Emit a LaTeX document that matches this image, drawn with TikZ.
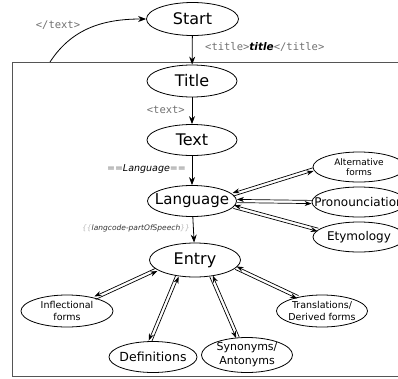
\documentclass[tikz,border=0pt]{standalone}
\usepackage{fontspec}
\setmainfont{DejaVu Sans}
\setmonofont{DejaVu Sans Mono}
\usepackage{tikz}
\usetikzlibrary{shapes.geometric}
\usetikzlibrary{arrows.meta}

\definecolor{tagGray}{HTML}{707070}
\definecolor{braceGray}{HTML}{BBBBBB}
\definecolor{frameGray}{HTML}{555555}

% two arrows side by side, one each way
\newcommand{\pairlink}[4]{%
  \draw[pair, transform canvas={shift={(#3)}}] (#1) -- (#2);
  \draw[pair, transform canvas={shift={(#4)}}] (#2) -- (#1);}

\begin{document}
\begin{tikzpicture}[x=1pt, y=-1pt,
    oval/.style={draw, ellipse, inner sep=0pt, line width=0.8pt},
    big/.style={font=\fontsize{16}{19}\selectfont},
    mid/.style={font=\fontsize{12}{14}\selectfont},
    small/.style={align=center, font=\fontsize{9.5}{12}\selectfont},
    tag/.style={inner sep=0pt, font=\ttfamily\fontsize{10.5}{12}\selectfont, text=tagGray},
    arr/.style={-{Stealth[length=8pt, width=6pt]}, line width=0.8pt},
    pair/.style={-{Stealth[length=7pt, width=5pt]}, line width=0.7pt}]

    \useasboundingbox (0,0) rectangle (398,378);
    \clip (0,0) rectangle (398,378);

    % Frame
    \draw[frameGray, line width=0.9pt] (12,62) rectangle (420,376);

    % Nodes
    \node[oval, minimum width=92pt, minimum height=33pt, label={[big]center:Start}] (start) at (192.5,19) {};
    \node[oval, minimum width=90pt, minimum height=32pt, label={[big]center:Title}] (title) at (192,81) {};
    \node[oval, minimum width=90pt, minimum height=31pt, label={[big]center:Text}] (txt) at (192,140) {};
    \node[oval, minimum width=89pt, minimum height=31pt,
          label={[big, font=\fontsize{15}{18}\selectfont]center:Language}] (lang) at (192,201) {};
    \node[oval, minimum width=91pt, minimum height=34pt, label={[big]center:Entry}] (entry) at (195,260) {};

    \node[oval, minimum width=92pt, minimum height=30pt,
          label={[small, font=\fontsize{9}{10.5}\selectfont]center:Alternative\\forms}] (alt) at (359,167) {};
    \node[oval, minimum width=94pt, minimum height=30pt, label={[mid]center:Pronounciation}] (pron) at (359,202) {};
    \node[oval, minimum width=92pt, minimum height=30pt, label={[mid]center:Etymology}] (ety) at (359,237) {};

    \node[oval, minimum width=92pt, minimum height=32pt, label={[small]center:Inflectional\\forms}] (infl) at (67,311) {};
    \node[oval, minimum width=88pt, minimum height=31pt, label={[mid, font=\fontsize{12.5}{14}\selectfont]center:Definitions}] (defs) at (153,357) {};
    \node[oval, minimum width=91pt, minimum height=35pt,
          label={[small, font=\fontsize{11}{14}\selectfont]center:Synonyms/\\Antonyms}] (syn) at (247,355) {};
    \node[oval, minimum width=91pt, minimum height=32pt,
          label={[small, font=\fontsize{9.5}{12.5}\selectfont]center:Translations/\\Derived forms}] (trans) at (322,311) {};

    \coordinate (back) at (50,62);

    % Labels
    \node[tag] (endtag) at (58,25) {</text>};
    \node[tag, anchor=west] (titletag) at (205,47) {<title>{\color{black}\rmfamily\bfseries\itshape title}</title>};
    \node[tag, anchor=east] (texttag) at (185,110) {<text>};
    \node[inner sep=0pt, anchor=east, font=\itshape\fontsize{9.5}{12}\selectfont] (langtag) at (186,169)
        {{\color{tagGray}==}Language{\color{tagGray}==}};
    \node[inner sep=0pt, anchor=east, font=\itshape\fontsize{7.5}{9}\selectfont, text=black!80] (postag) at (190,228)
        {{\color{braceGray}\{\{}langcode-partOfSpeech{\color{braceGray}\}\}}};

    % Arrows
    \draw[arr] (back) to[out=57, in=180] (start);
    \draw[arr] (start) -- (title);
    \draw[arr] (title) -- (txt);
    \draw[arr] (txt) -- (lang);
    \draw[arr] (lang) -- (entry);

    \pairlink{lang.9}{alt.183}{0.42,1.55}{-0.42,-1.55}
    \pairlink{lang.east}{pron.west}{0,1.6}{0,-1.6}
    \pairlink{lang.-8}{ety.170}{-0.39,1.55}{0.39,-1.55}
    \pairlink{entry.194}{infl.25}{-0.67,-1.46}{0.67,1.46}
    \pairlink{entry.222}{defs.100}{-1.49,-0.6}{1.49,0.6}
    \pairlink{entry.315}{syn.118}{-1.48,0.63}{1.48,-0.63}
    \pairlink{entry.349}{trans.150}{-0.67,1.46}{0.67,-1.46}

\end{tikzpicture}
\end{document}
